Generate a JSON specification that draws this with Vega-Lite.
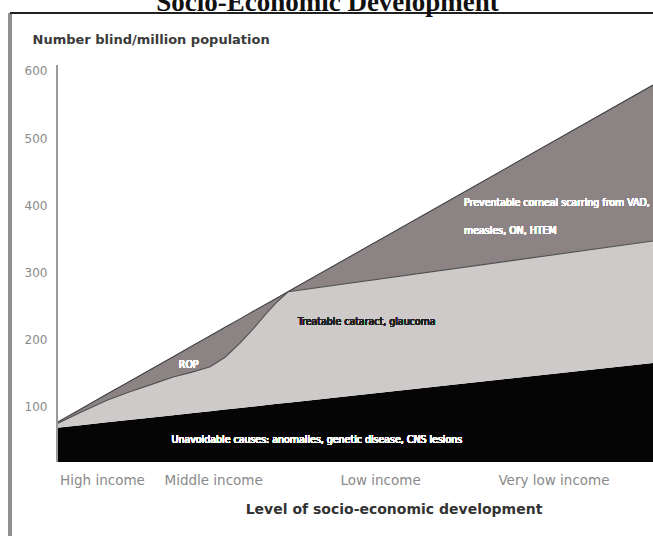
{
  "$schema": "https://vega.github.io/schema/vega-lite/v6.json",
  "autosize": "none",
  "padding": {"left": 10, "top": 13, "right": 0, "bottom": 0},
  "width": 643,
  "height": 523,
  "background": "white",
  "title": {
    "text": "Socio-Economic Development",
    "font": "Liberation Serif",
    "fontSize": 27,
    "fontWeight": "bold",
    "color": "#111111",
    "anchor": "middle",
    "frame": "group",
    "offset": -5,
    "dx": -4
  },
  "config": {
    "view": {"stroke": null},
    "axis": {"grid": false}
  },
  "data": {
    "values": [
      {"x": 0, "b": 69, "l": 75, "t": 77},
      {"x": 4, "b": 72.9, "l": 92, "t": 97.1},
      {"x": 8.4, "b": 77.1, "l": 110, "t": 119.2},
      {"x": 12, "b": 80.6, "l": 122, "t": 137.2},
      {"x": 16, "b": 84.4, "l": 134, "t": 157.3},
      {"x": 19.5, "b": 87.8, "l": 144.6, "t": 174.9},
      {"x": 22.5, "b": 90.7, "l": 151.5, "t": 190.0},
      {"x": 25.7, "b": 93.8, "l": 160, "t": 206.0},
      {"x": 28.2, "b": 96.2, "l": 174, "t": 218.6},
      {"x": 30.7, "b": 98.6, "l": 195, "t": 231.1},
      {"x": 33, "b": 100.8, "l": 217, "t": 242.7},
      {"x": 35.2, "b": 103.0, "l": 240, "t": 253.7},
      {"x": 37, "b": 104.7, "l": 257, "t": 262.7},
      {"x": 38.8, "b": 106.4, "l": 271.6, "t": 271.8},
      {"x": 100, "b": 165.5, "l": 347, "t": 579}
    ]
  },
  "layer": [
    {
      "mark": {"type": "area", "color": "#050505"},
      "encoding": {
        "x": {
          "field": "x", "type": "quantitative",
          "scale": {"domain": [-7.886, 100], "nice": false, "zero": false},
          "axis": {
            "orient": "bottom", "offset": -74,
            "values": [7.55, 26.2, 54.2, 83.3],
            "labelExpr": "datum.value < 15 ? 'High income' : datum.value < 40 ? 'Middle income' : datum.value < 70 ? 'Low income' : 'Very low income'",
            "domain": false, "ticks": false, "grid": false,
            "labelPadding": 11, "labelFont": "DejaVu Sans", "labelFontSize": 13.5,
            "labelColor": "#8a8a8a", "labelOverlap": false, "labelFlush": false,
            "title": "Level of socio-economic development",
            "titleFont": "DejaVu Sans", "titleFontSize": 14, "titleFontWeight": "bold",
            "titleColor": "#333333", "titlePadding": 16, "titleX": 383.5, "titleAlign": "center"
          }
        },
        "y": {
          "field": "b", "type": "quantitative",
          "scale": {"domain": [-92, 686.3], "nice": false, "zero": false},
          "axis": {
            "orient": "left", "offset": -47, "values": [100, 200, 300, 400, 500, 600],
            "ticks": false, "domain": false, "grid": false,
            "labelPadding": 10,
            "labelFont": "DejaVu Sans", "labelFontSize": 12, "labelColor": "#8a8a8a",
            "labelOverlap": false, "labelFlush": false,
            "title": "Number blind/million population",
            "titleAngle": 0, "titleAlign": "left", "titleBaseline": "middle",
            "titleX": -25, "titleY": 26,
            "titleFont": "DejaVu Sans", "titleFontSize": 13, "titleFontWeight": "bold",
            "titleColor": "#3a3a3a"
          }
        },
        "y2": {"datum": 18}
      }
    },
    {
      "mark": {"type": "area", "color": "#cfcaca"},
      "encoding": {
        "x": {"field": "x", "type": "quantitative"},
        "y": {"field": "l", "type": "quantitative"},
        "y2": {"field": "b"}
      }
    },
    {
      "mark": {"type": "area", "color": "#8c8484"},
      "encoding": {
        "x": {"field": "x", "type": "quantitative"},
        "y": {"field": "t", "type": "quantitative"},
        "y2": {"field": "l"}
      }
    },
    {
      "mark": {"type": "line", "color": "#505050", "strokeWidth": 1.1},
      "encoding": {
        "x": {"field": "x", "type": "quantitative"},
        "y": {"field": "l", "type": "quantitative"}
      }
    },
    {
      "mark": {"type": "line", "color": "#404040", "strokeWidth": 1.1},
      "encoding": {
        "x": {"field": "x", "type": "quantitative"},
        "y": {"field": "t", "type": "quantitative"}
      }
    },
    {
      "mark": {"type": "rule", "color": "#9a9a9a", "strokeWidth": 2},
      "encoding": {
        "x": {"datum": 0, "type": "quantitative"},
        "y": {"datum": 18, "type": "quantitative"},
        "y2": {"datum": 609}
      }
    },
    {
      "mark": {"type": "rule", "color": "#8f8f8f", "strokeWidth": 2.5},
      "encoding": {
        "x": {"datum": -7.886, "type": "quantitative"},
        "y": {"datum": -92, "type": "quantitative"},
        "y2": {"datum": 686.3}
      }
    },
    {
      "mark": {"type": "rule", "color": "#222222", "strokeWidth": 1.5},
      "encoding": {
        "x": {"datum": -7.886, "type": "quantitative"},
        "x2": {"datum": 100},
        "y": {"datum": 686.3, "type": "quantitative"}
      }
    },
    {
      "mark": {"type": "text", "font": "DejaVu Sans Condensed", "fontSize": 10.5, "color": "white", "align": "center", "baseline": "middle"},
      "encoding": {
        "x": {"datum": 43.6, "type": "quantitative"},
        "y": {"datum": 50.9, "type": "quantitative"},
        "text": {"value": "Unavoidable causes: anomalies, genetic disease, CNS lesions"}
      }
    },
    {
      "mark": {"type": "text", "font": "DejaVu Sans Condensed", "fontSize": 10.5, "color": "#222222", "align": "left", "baseline": "middle"},
      "encoding": {
        "x": {"datum": 40.4, "type": "quantitative"},
        "y": {"datum": 226.5, "type": "quantitative"},
        "text": {"value": "Treatable cataract, glaucoma"}
      }
    },
    {
      "mark": {"type": "text", "font": "DejaVu Sans Condensed", "fontSize": 10.5, "color": "white", "align": "center", "baseline": "middle"},
      "encoding": {
        "x": {"datum": 22.1, "type": "quantitative"},
        "y": {"datum": 162.5, "type": "quantitative"},
        "text": {"value": "ROP"}
      }
    },
    {
      "mark": {"type": "text", "font": "DejaVu Sans Condensed", "fontSize": 10.5, "color": "white", "align": "left", "baseline": "middle"},
      "encoding": {
        "x": {"datum": 68.3, "type": "quantitative"},
        "y": {"datum": 403.6, "type": "quantitative"},
        "text": {"value": "Preventable corneal scarring from VAD,"}
      }
    },
    {
      "mark": {"type": "text", "font": "DejaVu Sans Condensed", "fontSize": 10.5, "color": "white", "align": "left", "baseline": "middle"},
      "encoding": {
        "x": {"datum": 68.3, "type": "quantitative"},
        "y": {"datum": 361.9, "type": "quantitative"},
        "text": {"value": "measles, ON, HTEM"}
      }
    }
  ]
}
